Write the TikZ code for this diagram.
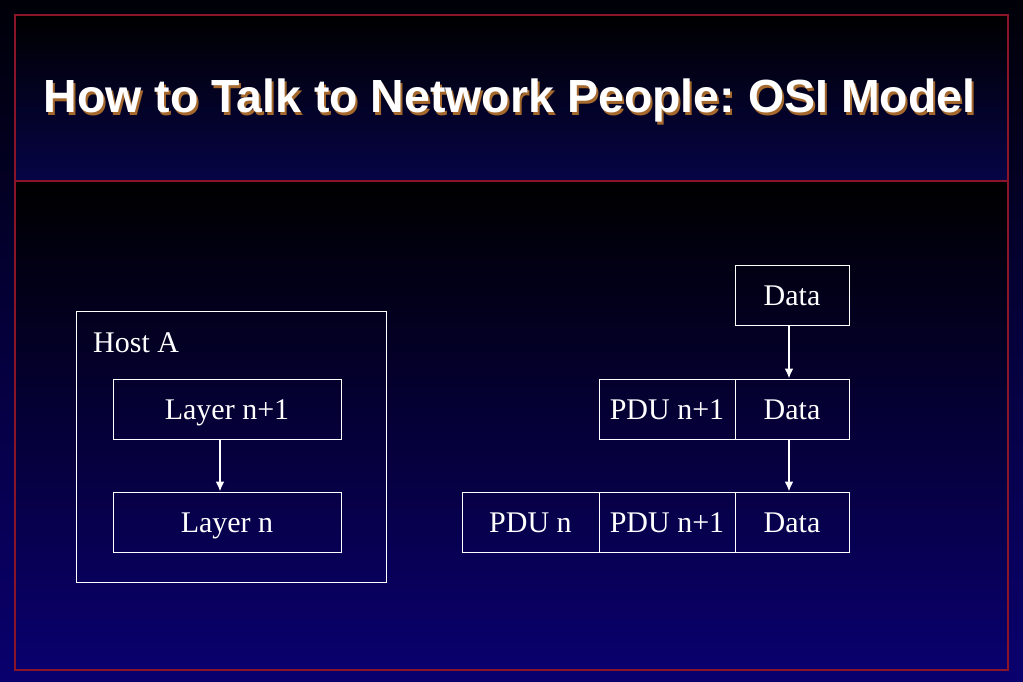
\documentclass[tikz,border=0pt]{standalone}
\usepackage{fontspec}
\setmainfont{Liberation Serif}
\newfontfamily\titlefont{Liberation Sans}
\usetikzlibrary{arrows.meta}
\definecolor{navybot}{RGB}{10,0,110}
\definecolor{navymid}{RGB}{6,4,70}
\definecolor{nearblack}{RGB}{0,0,8}
\definecolor{framered}{RGB}{140,20,40}
\definecolor{shadowbrown}{RGB}{165,105,45}
\frenchspacing
\begin{document}
\begin{tikzpicture}[x=1pt,y=-1pt]
\tikzset{cell/.style={draw=white, line width=1pt, inner sep=0pt, minimum height=60pt, text height=21pt, text depth=0pt, text=white, font=\fontsize{30}{36}\selectfont},
  flow/.style={draw=white, line width=2pt, -{Latex[length=10pt,width=9pt]}}}
\useasboundingbox (0,0) rectangle (1023,682);
% background
\shade[top color=nearblack, bottom color=navybot] (0,0) rectangle (1023,682);
\shade[top color=black, bottom color=navymid] (15,15) rectangle (1008,181);
\shade[top color=black, bottom color=navybot] (15,181) rectangle (1008,670);
\draw[framered, line width=1.2pt] (15,15) rectangle (1008,670);
\draw[framered, line width=1.2pt] (15,181) -- (1008,181);
% title
\node[anchor=base, text=shadowbrown, font=\titlefont\bfseries\fontsize{46.5}{56}\selectfont] (titleshadow) at (511.5,115.5) {How to Talk to Network People: OSI Model};
\node[anchor=base, text=white, font=\titlefont\bfseries\fontsize{46.5}{56}\selectfont] (title) at (509.5,113) {How to Talk to Network People: OSI Model};
% host A
\node[cell, minimum width=310pt, minimum height=271pt] (hostA) at (231,446.5) {};
\node[anchor=west, text=white, font=\fontsize{30}{36}\selectfont, inner sep=0pt] (hostlabel) at (93,343) {Host A};
\node[cell, minimum width=228pt] (layerup) at (227,409) {Layer n+1};
\node[cell, minimum width=228pt] (layerdn) at (227,522) {Layer n};
\draw[flow] ([xshift=-7pt]layerup.south) -- ([xshift=-7pt]layerdn.north);
% encapsulation
\node[cell, minimum width=114pt] (data0) at (792,295) {Data};
\node[cell, minimum width=136pt] (pdu1a) at (667,409) {PDU n+1};
\node[cell, minimum width=114pt] (data1) at (792,409) {Data};
\node[cell, minimum width=137pt] (pdun) at (530.5,522) {PDU n};
\node[cell, minimum width=136pt] (pdu1b) at (667,522) {PDU n+1};
\node[cell, minimum width=114pt] (data2) at (792,522) {Data};
\draw[flow] ([xshift=-3pt]data0.south) -- ([xshift=-3pt]data1.north);
\draw[flow] ([xshift=-3pt]data1.south) -- ([xshift=-3pt]data2.north);
\end{tikzpicture}
\end{document}
